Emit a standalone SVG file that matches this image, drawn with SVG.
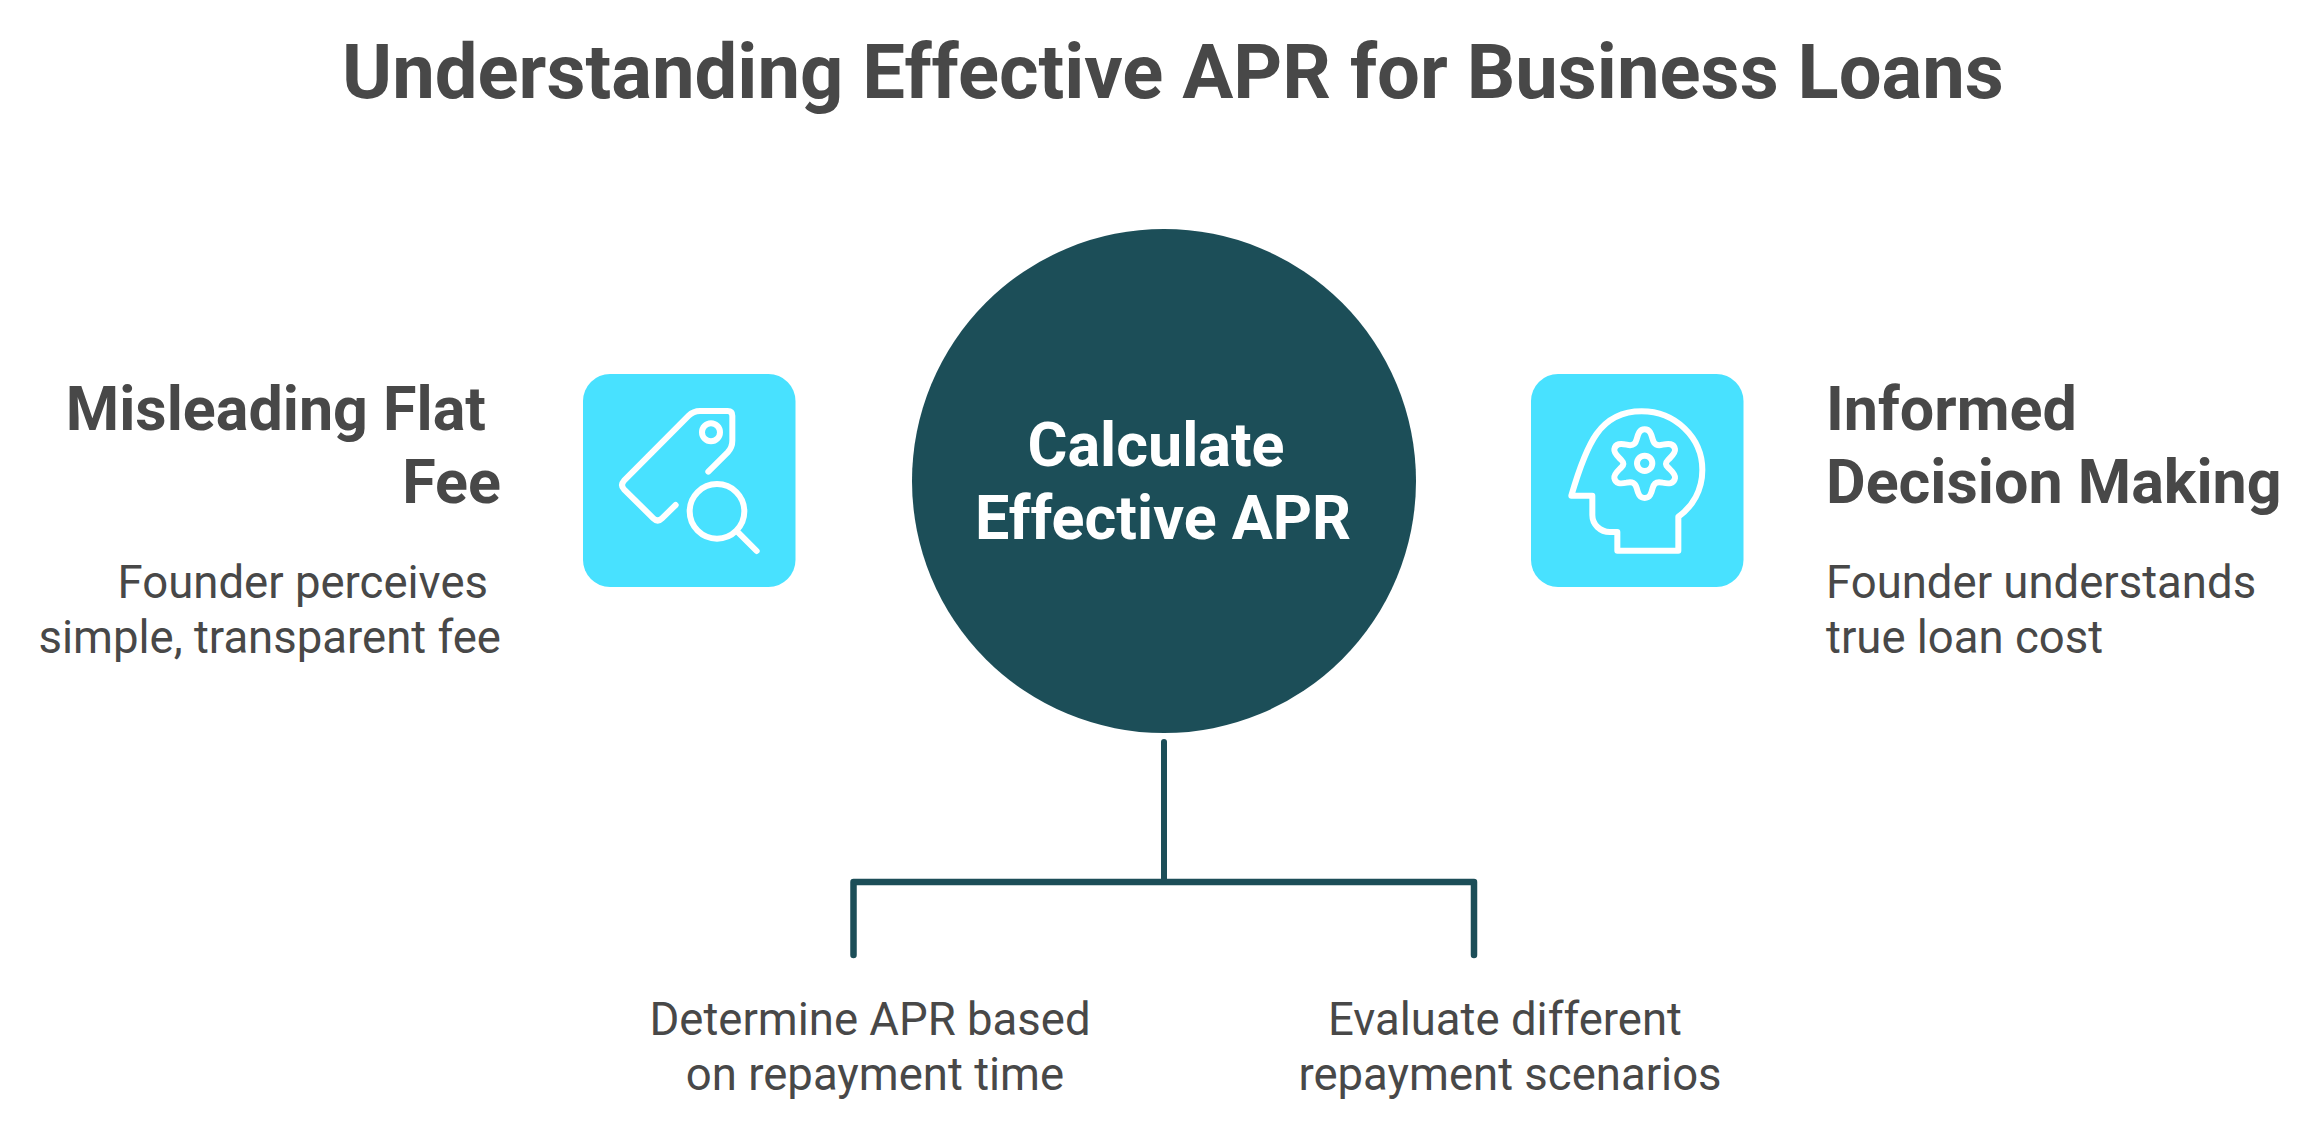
<svg xmlns="http://www.w3.org/2000/svg" width="2317" height="1140" viewBox="0 0 2317 1140">
<style>
text{font-family:Roboto,"Liberation Sans",sans-serif;fill:#484848}
.title{font-size:76px;font-weight:700}
.head{font-size:61px;font-weight:700}
.body{font-size:45.500px;font-weight:400}
.ctr{font-size:61px;font-weight:700;fill:#fff}
.box{fill:#48e1ff}
.ic{fill:none;stroke:#fff;stroke-width:18;stroke-linecap:round;stroke-linejoin:round}
.conn{fill:none;stroke:#1c4e58;stroke-linejoin:round;stroke-linecap:round}
</style>
<rect width="2317" height="1140" fill="#fff"/>
<text id="title" class="title" x="1173" y="98" text-anchor="middle">Understanding Effective APR for Business Loans</text>
<g id="connectors">
<path class="conn" stroke-width="6" d="M1164 742V882"/>
<path class="conn" stroke-width="6.500" d="M853.500 955V882H1474V955"/>
</g>
<g id="center">
<circle cx="1164" cy="481" r="252" fill="#1c4e58"/>
<text class="ctr" x="1156" y="466" text-anchor="middle">Calculate</text>
<text class="ctr" x="1163" y="539" text-anchor="middle">Effective APR</text>
</g>
<g id="left-node">
<rect class="box" x="583" y="374" width="212.500" height="213" rx="27"/>
<g class="ic" transform="translate(560 350) scale(.33333)">
<path d="M445 365L503 307Q517 292 517 272V197Q517 183 503 183H420Q400 183 386 197L192 392Q180 405 192 418L280 505Q293 518 306 505L347 465"/>
<circle cx="453" cy="247" r="27"/>
<circle cx="471" cy="484" r="82"/>
<path d="M535 548L590 603"/>
</g>
<text class="head" text-anchor="end" x="486" y="430">Misleading Flat</text>
<text class="head" text-anchor="end" x="501" y="503">Fee</text>
<text class="body" text-anchor="end" x="488" y="598">Founder perceives</text>
<text class="body" text-anchor="end" x="501" y="653">simple, transparent fee</text>
</g>
<g id="right-node">
<rect class="box" x="1531" y="374" width="212.500" height="213" rx="27"/>
<g class="ic" transform="translate(1510 350) scale(.33333)">
<path d="M184 437C230 280 270 184 395 184C495 184 577 262 577 360C577 420 548 470 505 500V602H322V546H300C270 546 247 523 247 495V437Z"/>
<circle cx="404" cy="340" r="23"/>
<path d="M404 238C420 238 424 252 428 268C432 284 442 288 458 284C476 280 492 280 495 298C497 310 484 320 474 330C466 338 466 344 474 352C484 362 497 372 495 384C492 402 476 402 458 398C442 394 432 398 428 414C424 430 420 444 404 444C388 444 384 430 380 414C376 398 366 394 350 398C332 402 316 402 313 384C311 372 324 362 334 352C342 344 342 338 334 330C324 320 311 310 313 298C316 280 332 280 350 284C366 288 376 284 380 268C384 252 388 238 404 238Z"/>
</g>
<text class="head" x="1826" y="430">Informed</text>
<text class="head" x="1826" y="503">Decision Making</text>
<text class="body" x="1826" y="598">Founder understands</text>
<text class="body" x="1826" y="653">true loan cost</text>
</g>
<g id="branch-left">
<text class="body" x="870" y="1035" text-anchor="middle">Determine APR based</text>
<text class="body" x="875" y="1090" text-anchor="middle">on repayment time</text>
</g>
<g id="branch-right">
<text class="body" x="1505" y="1035" text-anchor="middle">Evaluate different</text>
<text class="body" x="1510" y="1090" text-anchor="middle">repayment scenarios</text>
</g>
</svg>
